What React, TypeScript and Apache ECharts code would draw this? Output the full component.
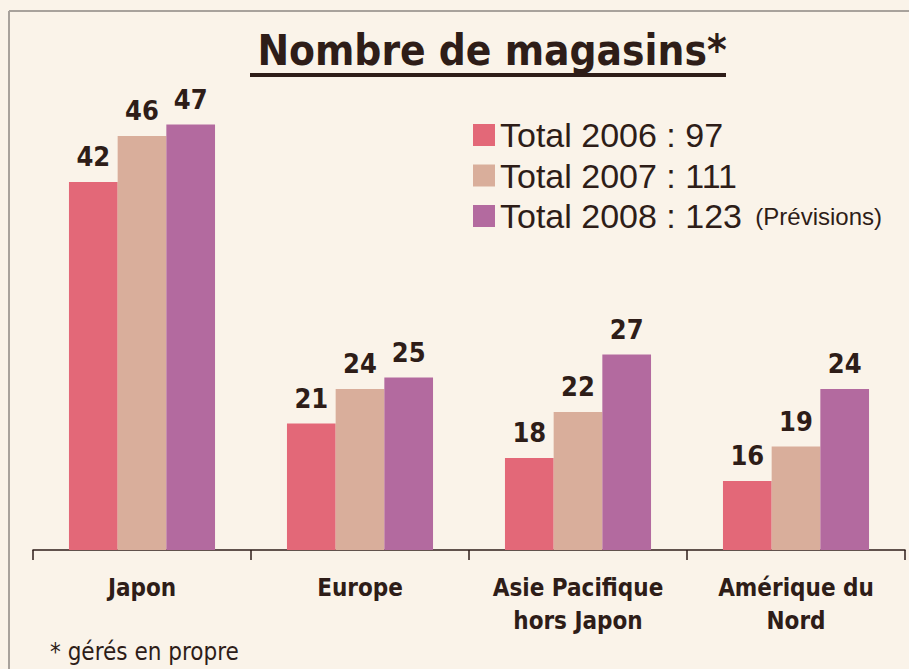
import React, { useEffect, useRef } from "react";
import * as echarts from "echarts";

const categories = ["Japon", "Europe", "Asie Pacifique\nhors Japon", "Amérique du\nNord"];
const seriesNames = ["Total 2006", "Total 2007", "Total 2008"];
const totals = ["97", "111", "123"];
const values2006 = [42, 21, 18, 16];
const values2007 = [46, 24, 22, 19];
const values2008 = [47, 25, 27, 24];
const colors = ["#e36878", "#d9ae9b", "#b36a9f"];

const TEXT = "#2e1d18";
const NARROW = "'Liberation Sans Narrow', 'DejaVu Sans Condensed', 'Liberation Sans', sans-serif";
const REG = "'Liberation Sans', Arial, sans-serif";

export default function App() {
  const ref = useRef<HTMLDivElement>(null);
  useEffect(() => {
    if (!ref.current) return;
    const chart = echarts.init(ref.current, undefined, { renderer: "svg" });
    const data = [values2006, values2007, values2008];
    chart.setOption({
      animation: false,
      backgroundColor: "#faf3e9",
      title: {
        text: "Nombre de magasins*",
        left: 487,
        textAlign: "center",
        top: 24,
        textStyle: { fontFamily: NARROW, fontSize: 42, fontWeight: "bold", color: TEXT },
      },
      legend: {
        orient: "vertical",
        left: 468,
        top: 113,
        itemWidth: 22,
        itemHeight: 22,
        itemGap: 6.5,
        icon: "rect",
        data: seriesNames,
        formatter: (name: string) => {
          const i = seriesNames.indexOf(name);
          const base = `{t|${name} : ${totals[i]}}`;
          return i === 2 ? base + "{s|  (Prévisions)}" : base;
        },
        textStyle: {
          color: TEXT,
          rich: {
            t: { fontFamily: REG, fontSize: 34, color: TEXT, lineHeight: 36 },
            s: { fontFamily: REG, fontSize: 24, color: TEXT, lineHeight: 36 },
          },
        },
      },
      grid: { left: 33, right: 4, top: 90, bottom: 119 },
      xAxis: {
        type: "category",
        data: categories,
        axisLine: { lineStyle: { color: TEXT, width: 1.5 } },
        axisTick: { show: true, length: 10, lineStyle: { color: TEXT, width: 1.5 } },
        axisLabel: {
          interval: 0,
          margin: 21,
          fontFamily: NARROW,
          fontSize: 24,
          fontWeight: "bold",
          color: TEXT,
          lineHeight: 33,
        },
      },
      yAxis: { type: "value", min: 10, max: 50, show: false, splitLine: { show: false } },
      series: data.map((d, i) => ({
        name: seriesNames[i],
        type: "bar",
        data: d,
        barGap: "0%",
        barCategoryGap: "33%",
        itemStyle: { color: colors[i] },
        label: {
          show: true,
          position: "top",
          distance: 12,
          fontFamily: NARROW,
          fontSize: 27,
          fontWeight: "bold",
          color: TEXT,
        },
      })),
      graphic: [
        {
          type: "line",
          shape: { x1: 9, y1: 11, x2: 909, y2: 11 },
          style: { stroke: "#a8a29c", lineWidth: 2 },
        },
        {
          type: "line",
          shape: { x1: 9, y1: 11, x2: 9, y2: 669 },
          style: { stroke: "#a8a29c", lineWidth: 2 },
        },
        {
          type: "rect",
          shape: { x: 250, y: 73, width: 476, height: 4 },
          style: { fill: TEXT },
        },
        {
          type: "text",
          x: 50,
          y: 640,
          style: {
            text: "* gérés en propre",
            fontFamily: NARROW,
            fontSize: 24,
            fill: TEXT,
          },
        },
      ],
    });
    return () => chart.dispose();
  }, []);
  return (
    <div
      ref={ref}
      style={{ position: "fixed", left: 0, top: 0, width: 909, height: 669 }}
    />
  );
}
